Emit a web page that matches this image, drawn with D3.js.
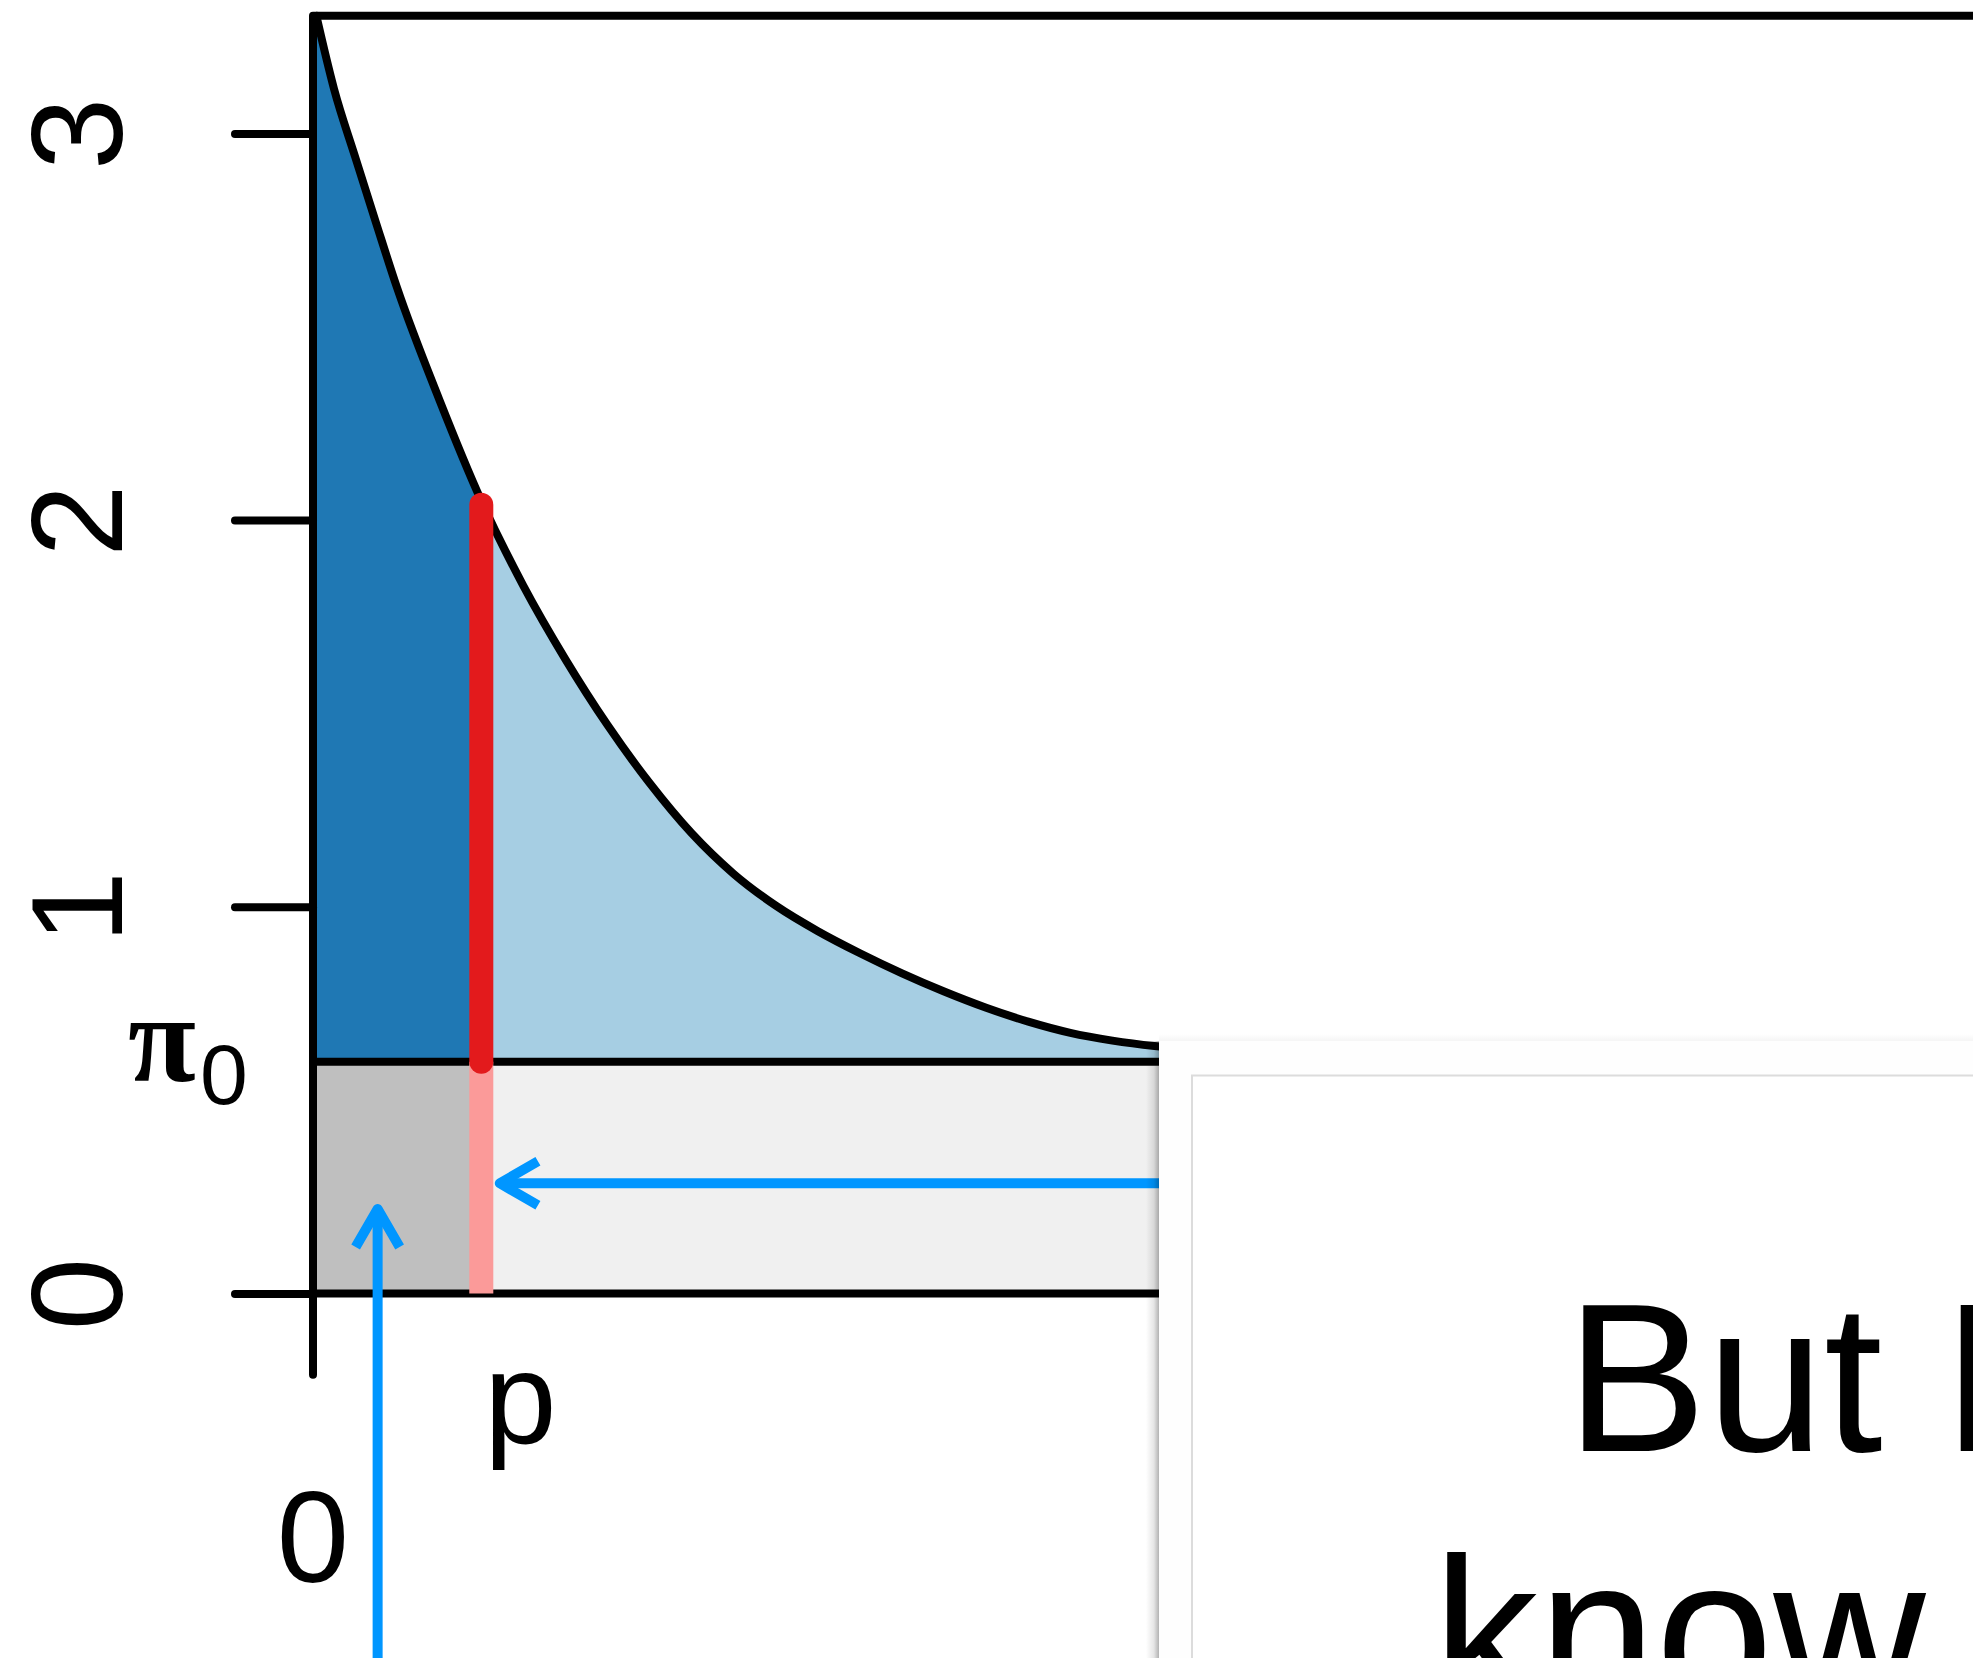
<!DOCTYPE html>
<html>
<head>
<meta charset="utf-8">
<script src="https://cdn.jsdelivr.net/npm/d3@7"></script>
<style>
  html, body { margin: 0; padding: 0; background: #fff; overflow: hidden; }
  svg { display: block; }
</style>
</head>
<body>
<svg id="chart" width="1973" height="1658"></svg>
<script>
// Mixture density of p-values: flat null level pi0 plus a decreasing alternative part
const curveP = [0.002, 0.0125, 0.025, 0.0375, 0.05, 0.075, 0.1, 0.125, 0.15, 0.175,
                0.2, 0.225, 0.25, 0.275, 0.3, 0.325, 0.35, 0.375, 0.4, 0.425,
                0.45, 0.475, 0.5, 0.525];
const curveF = [3.304, 3.115, 2.94, 2.768, 2.60, 2.312, 2.05, 1.83, 1.64, 1.47,
                1.32, 1.19, 1.085, 1.003, 0.937, 0.880, 0.828, 0.781, 0.739, 0.703,
                0.674, 0.654, 0.640, 0.631];

const pi0 = 0.599;          // null proportion (height of the flat part)
const pCut = 0.1;           // observed p-value
const fAtCut = 2.04;        // density at the observed p-value
const yTicks = [0, 1, 2, 3];
const yTickLabels = ["0", "1", "2", "3"];
const xLabels = ["0", "p"];
const yTop = 3.304, yBottom = -0.21, xRight = 1.0;

// arrows: one rising from below the axis, one pointing left toward the cut
const arrowUp = { x: 0.0384, from: -1.0, to: 0.2185 };
const arrowLeft = { y: 0.285, from: 0.6, to: 0.111 };

const slideLines = ["But I", "know"];

const W = 1973, H = 1658;
const svg = d3.select("#chart");

const x = d3.scaleLinear().domain([0, 0.1]).range([313, 481.3]);
const y = d3.scaleLinear().domain([0, 3]).range([1293.5, 133.4]);

const C = {
  dark: "#1f78b4", light: "#a6cee3", grey: "#bfbfbf", pale: "#f0f0f0",
  red: "#e31a1c", pink: "#fb9a99", arrow: "#0096ff"
};
const LW = 8;

const pts = curveP.map((p, i) => ({ p, f: curveF[i] }));
const left = pts.filter(d => d.p < pCut).concat([{ p: pCut, f: fAtCut }]);
const right = [{ p: pCut, f: fAtCut }].concat(pts.filter(d => d.p > pCut));
left.unshift({ p: 0, f: yTop });

const area = d3.area().x(d => x(d.p)).y0(y(pi0)).y1(d => y(d.f)).curve(d3.curveMonotoneX);
const line = d3.line().x(d => x(d.p)).y(d => y(d.f)).curve(d3.curveMonotoneX);

const plot = svg.append("g");

// lower band: null part, split at the cut
plot.append("rect").attr("x", x(0)).attr("y", y(pi0))
  .attr("width", x(pCut) - x(0)).attr("height", y(0) - y(pi0)).attr("fill", C.grey);
plot.append("rect").attr("x", x(pCut)).attr("y", y(pi0))
  .attr("width", x(xRight) - x(pCut)).attr("height", y(0) - y(pi0)).attr("fill", C.pale);

// upper band: alternative part, split at the cut
plot.append("path").datum(left).attr("d", area).attr("fill", C.dark);
plot.append("path").datum(right).attr("d", area).attr("fill", C.light);

// density curve and level lines
plot.append("path").datum(pts).attr("d", line)
  .attr("fill", "none").attr("stroke", "#000").attr("stroke-width", LW)
  .attr("stroke-linejoin", "round").attr("stroke-linecap", "round");

[pi0, 0].forEach(v => {
  plot.append("line").attr("x1", x(0)).attr("x2", x(xRight))
    .attr("y1", y(v)).attr("y2", y(v))
    .attr("stroke", "#000").attr("stroke-width", LW);
});

// frame: top edge and the left axis line
plot.append("path")
  .attr("d", d3.line()([[x(xRight), y(yTop)], [x(0), y(yTop)], [x(0), y(yBottom)]]))
  .attr("fill", "none").attr("stroke", "#000").attr("stroke-width", LW)
  .attr("stroke-linejoin", "round").attr("stroke-linecap", "round");

// y axis ticks with rotated labels
const yAxis = d3.axisLeft(y).tickValues(yTicks).tickSize(78).tickSizeOuter(0)
  .tickFormat((d, i) => yTickLabels[i]);
const ag = svg.append("g").attr("transform", `translate(${x(0)},0)`).call(yAxis);
ag.select(".domain").remove();
ag.selectAll(".tick line").attr("stroke", "#000").attr("stroke-width", LW)
  .attr("stroke-linecap", "round");
ag.selectAll(".tick text")
  .attr("x", 0).attr("y", -191).attr("dy", 0)
  .attr("transform", "rotate(-90)")
  .attr("text-anchor", "middle").attr("fill", "#000")
  .style("font-family", "'Liberation Sans', Arial, sans-serif").style("font-size", "130px");

// cut marker: pink over the null band, red over the alternative band
plot.append("line").attr("x1", x(pCut)).attr("x2", x(pCut))
  .attr("y1", y(0)).attr("y2", y(pi0))
  .attr("stroke", C.pink).attr("stroke-width", 24).attr("stroke-linecap", "butt");
plot.append("line").attr("x1", x(pCut)).attr("x2", x(pCut))
  .attr("y1", y(pi0)).attr("y2", y(fAtCut))
  .attr("stroke", C.red).attr("stroke-width", 24).attr("stroke-linecap", "round");

// arrows
function arrow(x1, y1, x2, y2) {
  const a = Math.atan2(y2 - y1, x2 - x1), len = 44, spread = Math.PI / 6;
  const h1 = [x2 - len * Math.cos(a - spread), y2 - len * Math.sin(a - spread)];
  const h2 = [x2 - len * Math.cos(a + spread), y2 - len * Math.sin(a + spread)];
  const g = svg.append("g").attr("stroke", C.arrow).attr("stroke-width", 10)
    .attr("fill", "none").attr("stroke-linejoin", "round");
  g.append("line").attr("x1", x1).attr("y1", y1).attr("x2", x2).attr("y2", y2);
  g.append("path").attr("d", d3.line()([h1, [x2, y2], h2]));
}
arrow(x(arrowUp.x), y(arrowUp.from), x(arrowUp.x), y(arrowUp.to));
arrow(x(arrowLeft.from), y(arrowLeft.y), x(arrowLeft.to), y(arrowLeft.y));

// labels
const sans = "'Liberation Sans', Arial, sans-serif";
svg.append("text").attr("x", x(0)).attr("y", 1581.5).attr("text-anchor", "middle")
  .style("font-family", sans).style("font-size", "130px").text(xLabels[0]);
svg.append("text").attr("x", x(pCut) + 39).attr("y", 1443).attr("text-anchor", "middle")
  .style("font-family", sans).style("font-size", "130px").text(xLabels[1]);

const piLab = svg.append("text").attr("x", 128).attr("y", y(pi0) + 19);
piLab.append("tspan").style("font-family", "'Liberation Serif', serif")
  .style("font-weight", "bold").style("font-size", "124px").text("π");
piLab.append("tspan").attr("dy", 23).attr("dx", 4)
  .style("font-family", sans).style("font-size", "86px").text("0");

// slide card laid over the lower right of the figure
const defs = svg.append("defs");
const gx = defs.append("linearGradient").attr("id", "shadowX")
  .attr("x1", "0").attr("x2", "1").attr("y1", "0").attr("y2", "0");
gx.append("stop").attr("offset", "0").attr("stop-color", "#000").attr("stop-opacity", 0);
gx.append("stop").attr("offset", "0.6").attr("stop-color", "#000").attr("stop-opacity", 0.1);
gx.append("stop").attr("offset", "1").attr("stop-color", "#000").attr("stop-opacity", 0.3);
const gy = defs.append("linearGradient").attr("id", "shadowY")
  .attr("x1", "0").attr("x2", "0").attr("y1", "0").attr("y2", "1");
gy.append("stop").attr("offset", "0").attr("stop-color", "#000").attr("stop-opacity", 0);
gy.append("stop").attr("offset", "1").attr("stop-color", "#000").attr("stop-opacity", 0.04);

const card = svg.append("g");
card.append("rect").attr("x", 1146).attr("y", 1041).attr("width", 13).attr("height", H - 1041)
  .attr("fill", "url(#shadowX)");
card.append("rect").attr("x", 1159).attr("y", 1034).attr("width", W - 1159).attr("height", 7)
  .attr("fill", "url(#shadowY)");
card.append("rect").attr("x", 1159).attr("y", 1041).attr("width", W - 1159 + 20).attr("height", H - 1041 + 20)
  .attr("fill", "#fefefe");
card.append("rect").attr("x", 1192).attr("y", 1075.5).attr("width", W - 1192 + 20).attr("height", H - 1075 + 20)
  .attr("fill", "#fff").attr("stroke", "#dcdcdc").attr("stroke-width", 2);
card.append("text").attr("x", 1566).attr("y", 1451)
  .style("font-family", sans).style("font-size", "211px").text(slideLines[0]);
card.append("text").attr("x", 1433).attr("y", 1705)
  .style("font-family", sans).style("font-size", "211px").text(slideLines[1]);
</script>
</body>
</html>
